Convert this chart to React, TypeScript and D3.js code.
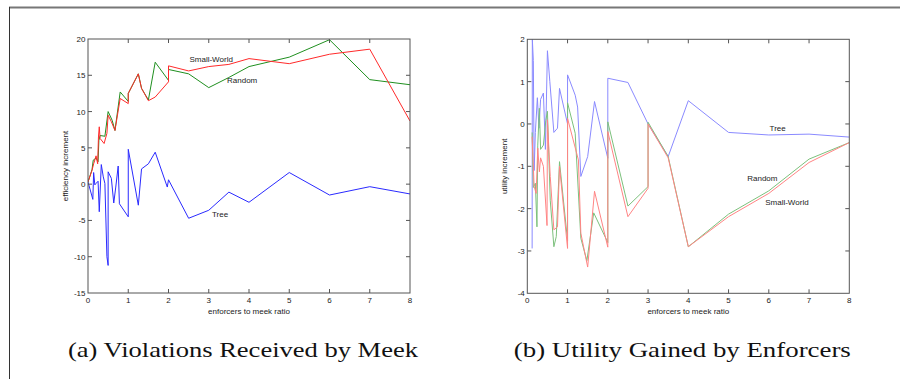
import * as d3 from "d3";

type Pt = [number, number];

// (a) violations received by meek -- efficiency increment
const violTree: Pt[] = [
  [0, 0.3], [0.12, -2.1], [0.14, 1.6], [0.17, -0.1], [0.2, 0.1], [0.25, 0.4], [0.28, -3.8],
  [0.33, 2.7], [0.38, 1.0], [0.42, 0.1], [0.47, -10.0], [0.5, -11.2], [0.5, 1.7], [0.58, 0.8],
  [0.64, -2.6], [0.69, -0.4], [0.75, 2.5], [0.78, -2.7], [1, -4.5], [1, 4.8], [1.25, -2.9],
  [1.33, 2.1], [1.5, 2.8], [1.67, 4.4], [1.97, -0.4], [2, 0.6], [2.5, -4.7], [3, -3.6],
  [3.5, -1.1], [4, -2.5], [5, 1.6], [6, -1.5], [7, -0.35], [8, -1.35],
];
const violSmallWorld: Pt[] = [
  [0, 0.3], [0.1, 1.9], [0.14, 2.8], [0.18, 3.5], [0.2, 3.9], [0.24, 2.8], [0.26, 6.5],
  [0.28, 7.9], [0.3, 6.3], [0.4, 5.6], [0.47, 7.0], [0.5, 9.5], [0.58, 8.6], [0.67, 7.4],
  [0.8, 11.8], [1, 11.1], [1, 12.5], [1.25, 15.2], [1.33, 13.2], [1.5, 11.5], [1.67, 12.0],
  [2, 14.1], [2, 16.3], [2.5, 15.6], [3, 16.2], [3.5, 16.5], [4, 17.3], [5, 16.6], [6, 17.9],
  [7, 18.6], [8, 8.7],
];
const violRandom: Pt[] = [
  [0, 0.3], [0.1, 2.0], [0.13, 3.3], [0.2, 3.6], [0.25, 3.1], [0.27, 6.0], [0.3, 6.7],
  [0.42, 6.6], [0.5, 10.0], [0.6, 8.8], [0.67, 7.4], [0.8, 12.7], [1, 11.4], [1, 12.5],
  [1.25, 15.2], [1.33, 13.2], [1.5, 11.6], [1.67, 16.8], [2, 14.3], [2, 15.8], [2.5, 15.2],
  [3, 13.3], [3.5, 14.7], [4, 16.2], [5, 17.5], [6, 19.9], [7, 14.4], [8, 13.7],
];

// (b) utility gained by enforcers -- utility increment
const utilTree: Pt[] = [
  [0.12, -2.94], [0.125, 2.0], [0.15, 1.5], [0.17, -1.1], [0.2, -0.2], [0.25, 0.62], [0.29, -0.1],
  [0.33, 0.58], [0.4, 0.73], [0.45, -0.6], [0.5, 1.73], [0.56, 1.0], [0.66, -0.2], [0.75, -0.1],
  [0.8, 0.84], [1, 0.0], [1, 1.16], [1.19, 0.68], [1.25, 0.4], [1.33, -1.24], [1.5, -0.77],
  [1.67, 0.53], [2, -0.81], [2, 1.08], [2.5, 0.98], [3, 0.0], [3.5, -0.77], [4, 0.55],
  [5, -0.2], [6, -0.26], [7, -0.24], [8, -0.31],
];
const utilRandom: Pt[] = [
  [0.12, -0.2], [0.15, -1.5], [0.2, -1.4], [0.24, -2.43], [0.26, -0.5], [0.3, 0.37], [0.33, -0.6],
  [0.4, -0.5], [0.46, 0.08], [0.5, 0.3], [0.57, -1.8], [0.66, -2.9], [0.72, -2.66], [0.8, -0.89],
  [1, -2.76], [1, 0.5], [1.19, -0.22], [1.33, -2.7], [1.48, -3.23], [1.65, -2.1], [2, -2.8],
  [2, 0.05], [2.5, -1.94], [3, -1.48], [3, 0.04], [3.5, -0.77], [4, -2.9], [5, -2.13],
  [6, -1.58], [7, -0.83], [8, -0.44],
];
const utilSmallWorld: Pt[] = [
  [0.12, -0.3], [0.17, -1.48], [0.22, -1.64], [0.26, -0.57], [0.3, -1.13], [0.33, -0.8],
  [0.4, -1.0], [0.49, -2.4], [0.5, 0.1], [0.57, -1.24], [0.66, -2.5], [0.75, -2.43], [0.8, -1.0],
  [1, -2.94], [1, 0.13], [1.27, -0.85], [1.33, -2.58], [1.5, -3.38], [1.67, -1.59], [2, -2.91],
  [2, -0.18], [2.5, -2.19], [3, -1.52], [3, 0.0], [3.5, -0.8], [4, -2.9], [5, -2.19],
  [6, -1.64], [7, -0.91], [8, -0.44],
];

const xTicks = [0, 1, 2, 3, 4, 5, 6, 7, 8];
const violTicks = [-15, -10, -5, 0, 5, 10, 15, 20];
const utilTicks = [-4, -3, -2, -1, 0, 1, 2];

interface Series { name: string; pts: Pt[]; color: string; label: Pt }

interface PanelProps {
  box: { l: number; r: number; t: number; b: number };
  yDomain: [number, number];
  yTicks: number[];
  yLabel: string;
  series: Series[];
  caption: string;
  captionWidth: number;
  id: string;
}

const sans = "Liberation Sans, Arial, Helvetica, sans-serif";
const serif = "'Liberation Serif', 'DejaVu Serif', 'Noto Serif', 'Times New Roman', Times, Georgia, serif";

function Panel({ box, yDomain, yTicks, yLabel, series, caption, captionWidth, id }: PanelProps) {
  const x = d3.scaleLinear().domain([0, 8]).range([box.l, box.r]);
  const y = d3.scaleLinear().domain(yDomain).range([box.b, box.t]);
  const line = d3.line<Pt>().x((d) => x(d[0])).y((d) => y(d[1]));
  const frame = "#555";
  const tk = 4;
  const cx = (box.l + box.r) / 2;
  const cy = (box.t + box.b) / 2;

  return (
    <g>
      <defs>
        <clipPath id={id}>
          <rect x={box.l} y={box.t} width={box.r - box.l} height={box.b - box.t} />
        </clipPath>
      </defs>
      <g clipPath={`url(#${id})`}>
        {series.map((s) => (
          <path key={s.name} d={line(s.pts) ?? ""} fill="none" stroke={s.color} strokeWidth={1} />
        ))}
      </g>
      <rect x={box.l} y={box.t} width={box.r - box.l} height={box.b - box.t} fill="none" stroke={frame} strokeWidth={1} />
      {xTicks.map((t) => (
        <g key={`x${t}`}>
          {t > 0 && t < 8 && (
            <>
              <line x1={x(t)} x2={x(t)} y1={box.b} y2={box.b - tk} stroke={frame} />
              <line x1={x(t)} x2={x(t)} y1={box.t} y2={box.t + tk} stroke={frame} />
            </>
          )}
          <text x={x(t)} y={box.b + 10} textAnchor="middle" fontSize={8} fontFamily={sans} fill="#222">{t}</text>
        </g>
      ))}
      {yTicks.map((t) => (
        <g key={`y${t}`}>
          {t > yDomain[0] && t < yDomain[1] && (
            <>
              <line x1={box.l} x2={box.l + tk} y1={y(t)} y2={y(t)} stroke={frame} />
              <line x1={box.r} x2={box.r - tk} y1={y(t)} y2={y(t)} stroke={frame} />
            </>
          )}
          <text x={box.l - 2.5} y={y(t) + 3} textAnchor="end" fontSize={8} fontFamily={sans} fill="#222">{t}</text>
        </g>
      ))}
      <text x={cx} y={box.b + 21} textAnchor="middle" fontSize={8} fontFamily={sans} fill="#222">enforcers to meek ratio</text>
      <text transform={`translate(${box.l - 20},${cy}) rotate(-90)`} textAnchor="middle" fontSize={8} fontFamily={sans} fill="#222">{yLabel}</text>
      {series.map((s) => (
        <text key={`l${s.name}`} x={x(s.label[0])} y={y(s.label[1]) + 3} textAnchor="middle" fontSize={8} fontFamily={sans} fill="#222">{s.name}</text>
      ))}
      <text x={cx - 6} y={357} textAnchor="middle" fontSize={22} style={{ fontFamily: serif }}
        fill="#111" textLength={captionWidth} lengthAdjust="spacingAndGlyphs">{caption}</text>
    </g>
  );
}

export default function App() {
  return (
    <svg width={900} height={379} style={{ position: "absolute", left: 0, top: 0, background: "#fff" }}>
      <rect x={0} y={0} width={900} height={379} fill="#fff" />
      <line x1={9} x2={900} y1={7.5} y2={7.5} stroke="#777" strokeWidth={2} />
      <line x1={9.5} x2={9.5} y1={7} y2={379} stroke="#333" strokeWidth={1} />
      <Panel
        id="clipA"
        box={{ l: 88, r: 410, t: 39, b: 293 }}
        yDomain={[-15, 20]}
        yTicks={violTicks}
        yLabel="efficiency increment"
        caption="(a) Violations Received by Meek"
        captionWidth={350}
        series={[
          { name: "Tree", pts: violTree, color: "#2a2aff", label: [3.28, -4.1] },
          { name: "Random", pts: violRandom, color: "#1f8f1f", label: [3.83, 14.3] },
          { name: "Small-World", pts: violSmallWorld, color: "#ff2a2a", label: [3.06, 17.2] },
        ]}
      />
      <Panel
        id="clipB"
        box={{ l: 527.3, r: 849.3, t: 39.3, b: 293.3 }}
        yDomain={[-4, 2]}
        yTicks={utilTicks}
        yLabel="utility increment"
        caption="(b) Utility Gained by Enforcers"
        captionWidth={337}
        series={[
          { name: "Tree", pts: utilTree, color: "#8a8aff", label: [6.22, -0.1] },
          { name: "Random", pts: utilRandom, color: "#7cc07c", label: [5.84, -1.28] },
          { name: "Small-World", pts: utilSmallWorld, color: "#ff8484", label: [6.45, -1.84] },
        ]}
      />
    </svg>
  );
}
